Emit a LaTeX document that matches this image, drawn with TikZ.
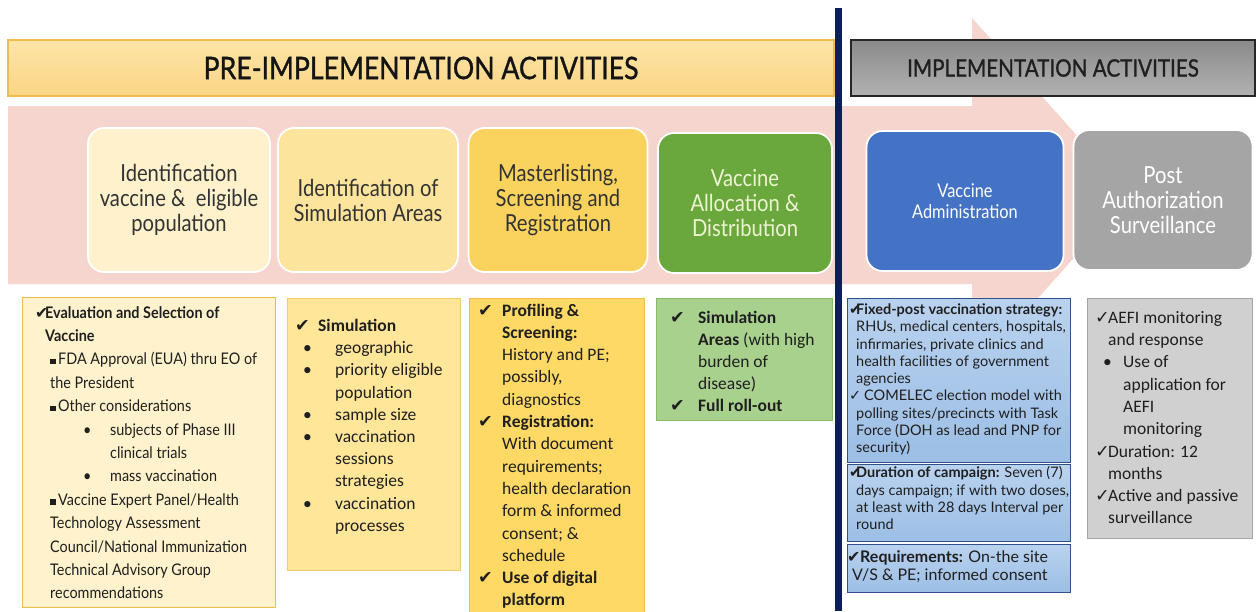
\documentclass[tikz,border=0pt]{standalone}
\usepackage{fontspec}
\setmainfont{Lato}
\newfontfamily\latoban[FakeStretch=0.86,FakeBold=1]{Lato}
\newfontfamily\latocn[FakeStretch=0.86]{Lato}
\newfontfamily\latolist[FakeStretch=0.9]{Lato}
\newfontfamily\calfont{Carlito}
\newfontfamily\symfont{DejaVu Sans}
\usetikzlibrary{positioning}

\definecolor{rosaFlecha}{HTML}{F5D5CD}
\definecolor{azulMarino}{HTML}{0C1E5B}
\definecolor{amBanda}{HTML}{F9D584}
\definecolor{amBandaClaro}{HTML}{FDE4A8}
\definecolor{amBorde}{HTML}{EFBE4A}
\definecolor{grisBandaA}{HTML}{8A8A8A}
\definecolor{grisBandaB}{HTML}{B2B2B2}
\definecolor{crema}{HTML}{FEF1CB}
\definecolor{amClaro}{HTML}{FDE49C}
\definecolor{amFuerte}{HTML}{FAD35E}
\definecolor{verdeEtapa}{HTML}{6AA83D}
\definecolor{azulEtapa}{HTML}{4472C4}
\definecolor{grisEtapa}{HTML}{A5A5A5}
\definecolor{textoEtapa}{HTML}{333333}
\definecolor{textoVerde}{HTML}{EEF3D2}
\definecolor{detCrema}{HTML}{FFF2CC}
\definecolor{detAmarillo}{HTML}{FFE699}
\definecolor{detOro}{HTML}{FFD966}
\definecolor{detVerde}{HTML}{A9D18E}
\definecolor{detAzulA}{HTML}{B9D2EF}
\definecolor{detAzulB}{HTML}{9CBEE5}
\definecolor{detGris}{HTML}{D0D0D0}

\newcommand{\chk}{{\symfont ✓}}
\newcommand{\chkb}{{\symfont ✔}}
\newcommand{\cuad}{\rule[0.5pt]{5.5pt}{5.5pt}}
\newcommand{\mk}[2]{\makebox[#1][l]{#2}}
\newcommand{\ind}[1]{\hspace*{#1}}

\begin{document}
\begin{tikzpicture}[x=1pt,y=-1pt,
    etapa/.style={rounded corners=16pt, draw=white, line width=1.8pt, align=center,
      inner sep=2pt, font=\latocn\fontsize{23.5}{25}\selectfont},
    caja/.style={anchor=north west, line width=0.9pt, inner sep=0pt},
    lista/.style={anchor=north west, align=left, inner sep=0pt, text=black!88}]

  \fill[white] (0,0) rectangle (1257,611);
  \useasboundingbox (0,0) rectangle (1257,611);

  % flecha de fondo
  \fill[rosaFlecha] (8,106) -- (972,106) -- (972,18) -- (1130,195)
        -- (972,372) -- (972,284) -- (8,284) -- cycle;

  % bandas de titulo
  \node[draw=amBorde, line width=1.5pt, top color=amBandaClaro, bottom color=amBanda,
        minimum width=826pt, minimum height=56pt, text=black!92,
        font=\latoban\fontsize{31}{32}\selectfont] (banPre) at (421,68) {PRE-IMPLEMENTATION ACTIVITIES};
  \node[draw=black!85, line width=1.5pt, top color=grisBandaA, bottom color=grisBandaB,
        minimum width=404pt, minimum height=56pt, text=black!88,
        font=\latoban\fontsize{24}{26}\selectfont] (banImp) at (1053,68) {IMPLEMENTATION ACTIVITIES};

  % etapas
  \node[etapa, fill=crema, text=textoEtapa, minimum width=182pt, minimum height=144pt]
        (etIdent) at (179,200) {Identification\\vaccine \&\ \ eligible\\population};
  \node[etapa, fill=amClaro, text=textoEtapa, minimum width=180pt, minimum height=144pt]
        (etSimul) at (368,200) {Identification of\\Simulation Areas};
  \node[etapa, fill=amFuerte, text=textoEtapa, minimum width=179pt, minimum height=144pt]
        (etMaster) at (558,200) {Masterlisting,\\Screening and\\Registration};
  \node[etapa, fill=verdeEtapa, text=textoVerde, minimum width=174pt, minimum height=140pt]
        (etAsig) at (745,203) {Vaccine\\Allocation \&\\Distribution};
  \node[etapa, fill=azulEtapa, text=white, minimum width=197pt, minimum height=140pt,
        font=\latocn\fontsize{19}{21}\selectfont] (etAdmin) at (965,201) {Vaccine\\Administration};
  \node[etapa, fill=grisEtapa, text=white, minimum width=179pt, minimum height=140pt]
        (etPost) at (1163,200) {Post\\Authorization\\Surveillance};

  % cajas de detalle
  \node[caja, draw=amBorde, fill=detCrema, minimum width=253pt, minimum height=310pt] (cjEval) at (22,297) {};
  \node[caja, draw=amBorde!80, fill=detAmarillo, minimum width=173pt, minimum height=272pt] (cjSim) at (287,298) {};
  \node[caja, draw=amBorde, fill=detOro, minimum width=175pt, minimum height=320pt] (cjReg) at (469,298) {};
  \node[caja, draw=verdeEtapa!80, fill=detVerde, minimum width=176pt, minimum height=122pt] (cjDist) at (656,298) {};
  \node[caja, draw=azulEtapa!70!black, top color=detAzulA, bottom color=detAzulB,
        minimum width=223pt, minimum height=164pt] (cjFijo) at (847,298) {};
  \node[caja, draw=azulEtapa!70!black, top color=detAzulA, bottom color=detAzulB,
        minimum width=223pt, minimum height=77pt] (cjDur) at (847,464) {};
  \node[caja, draw=azulEtapa!70!black, top color=detAzulA, bottom color=detAzulB,
        minimum width=223pt, minimum height=48pt] (cjReq) at (847,544) {};
  \node[caja, draw=grisEtapa, fill=detGris, minimum width=165pt, minimum height=240pt] (cjAefi) at (1087,298) {};

  \node[lista, font=\latolist\fontsize{16}{23.4}\selectfont, below right=9pt and 13pt of cjEval.north west] (txEval)
    {\mk{10pt}{\chkb}\textbf{Evaluation and Selection of}\\
     \ind{10pt}\textbf{Vaccine}\\
     \ind{15pt}\mk{8pt}{\cuad}FDA Approval (EUA) thru EO of\\
     \ind{15pt}the President\\
     \ind{15pt}\mk{8pt}{\cuad}Other considerations\\
     \ind{48pt}\mk{27pt}{\textbullet}subjects of Phase III\\
     \ind{75pt}clinical trials\\
     \ind{48pt}\mk{27pt}{\textbullet}mass vaccination\\
     \ind{15pt}\mk{8pt}{\cuad}Vaccine Expert Panel/Health\\
     \ind{15pt}Technology Assessment\\
     \ind{15pt}Council/National Immunization\\
     \ind{15pt}Technical Advisory Group\\
     \ind{15pt}recommendations};

  \node[lista, font=\calfont\fontsize{17.5}{22.2}\selectfont, below right=21pt and 8pt of cjSim.north west] (txSim)
    {\mk{23pt}{\chkb}\textbf{Simulation}\\
     \ind{8pt}\mk{32pt}{\textbullet}geographic\\
     \ind{8pt}\mk{32pt}{\textbullet}priority eligible\\
     \ind{40pt}population\\
     \ind{8pt}\mk{32pt}{\textbullet}sample size\\
     \ind{8pt}\mk{32pt}{\textbullet}vaccination\\
     \ind{40pt}sessions\\
     \ind{40pt}strategies\\
     \ind{8pt}\mk{32pt}{\textbullet}vaccination\\
     \ind{40pt}processes};

  \node[lista, font=\calfont\fontsize{17.5}{22.3}\selectfont, below right=5.5pt and 9pt of cjReg.north west] (txReg)
    {\mk{24pt}{\chkb}\textbf{Profiling \&}\\
     \ind{24pt}\textbf{Screening:}\\
     \ind{24pt}History and PE;\\
     \ind{24pt}possibly,\\
     \ind{24pt}diagnostics\\
     \mk{24pt}{\chkb}\textbf{Registration:}\\
     \ind{24pt}With document\\
     \ind{24pt}requirements;\\
     \ind{24pt}health declaration\\
     \ind{24pt}form \& informed\\
     \ind{24pt}consent; \&\\
     \ind{24pt}schedule\\
     \mk{24pt}{\chkb}\textbf{Use of digital}\\
     \ind{24pt}\textbf{platform}};

  \node[lista, font=\calfont\fontsize{17.5}{22}\selectfont, below right=12.5pt and 14pt of cjDist.north west] (txDist)
    {\mk{28pt}{\chkb}\textbf{Simulation}\\
     \ind{28pt}\textbf{Areas} (with high\\
     \ind{28pt}burden of\\
     \ind{28pt}disease)\\
     \mk{28pt}{\chkb}\textbf{Full roll-out}};

  \node[lista, font=\fontsize{14.5}{17.3}\selectfont, below right=5.5pt and 2pt of cjFijo.north west] (txFijo)
    {\mk{7pt}{\chkb}\textbf{Fixed-post vaccination strategy:}\\
     \ind{7pt}RHUs, medical centers, hospitals,\\
     \ind{7pt}infirmaries, private clinics and\\
     \ind{7pt}health facilities of government\\
     \ind{7pt}agencies\\
     \mk{15pt}{\chk}COMELEC election model with\\
     \ind{7pt}polling sites/precincts with Task\\
     \ind{7pt}Force (DOH as lead and PNP for\\
     \ind{7pt}security)};

  \node[lista, font=\fontsize{14.5}{17.3}\selectfont, below right=2.5pt and 2pt of cjDur.north west] (txDur)
    {\mk{7pt}{\chkb}\textbf{Duration of campaign:} Seven (7)\\
     \ind{7pt}days campaign; if with two doses,\\
     \ind{7pt}at least with 28 days Interval per\\
     \ind{7pt}round};

  \node[lista, font=\fontsize{16}{18}\selectfont, below right=6.5pt and 0pt of cjReq.north west] (txReq)
    {\mk{13pt}{\chkb}\textbf{Requirements:} On-the site\\
     \ind{5pt}V/S \& PE; informed consent};

  \node[lista, font=\calfont\fontsize{17.5}{22.3}\selectfont, below right=13pt and 8pt of cjAefi.north west] (txAefi)
    {\mk{13pt}{\chk}AEFI monitoring\\
     \ind{13pt}and response\\
     \ind{8pt}\mk{20pt}{\textbullet}Use of\\
     \ind{28pt}application for\\
     \ind{28pt}AEFI\\
     \ind{28pt}monitoring\\
     \mk{13pt}{\chk}Duration: 12\\
     \ind{13pt}months\\
     \mk{13pt}{\chk}Active and passive\\
     \ind{13pt}surveillance};

  % linea divisoria
  \draw[azulMarino, line width=7pt] (838,8) -- (838,611);
\end{tikzpicture}
\end{document}
